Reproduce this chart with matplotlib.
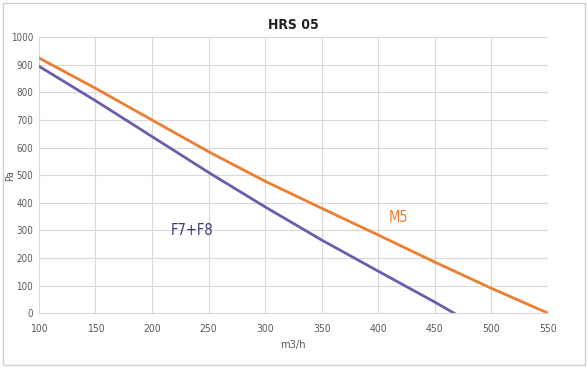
import matplotlib
matplotlib.use("Agg")
import matplotlib.pyplot as plt
from matplotlib.patches import Rectangle

plt.rcParams["font.family"] = ["DejaVu Sans"]
plt.rcParams["font.stretch"] = "condensed"

# airflow (m3/h) vs pressure (Pa)
m5_flow = [100, 150, 200, 250, 300, 350, 400, 450, 500, 550]
m5_pa = [925, 815, 700, 585, 478, 380, 283, 185, 90, 0]
f7f8_flow = [100, 150, 200, 250, 300, 350, 400, 450, 467]
f7f8_pa = [895, 770, 640, 510, 385, 265, 152, 40, 0]

x_ticks = [100, 150, 200, 250, 300, 350, 400, 450, 500, 550]
y_ticks = [0, 100, 200, 300, 400, 500, 600, 700, 800, 900, 1000]

ORANGE = "#ED7D31"
PURPLE = "#6E5BAE"
GRID = "#D9D9D9"
TICK = "#595959"

fig = plt.figure(figsize=(5.88, 3.68), dpi=100)
ax = fig.add_axes([0.066, 0.149, 0.866, 0.75])

ax.plot(m5_flow, m5_pa, color=ORANGE, lw=2)
ax.plot(f7f8_flow, f7f8_pa, color=PURPLE, lw=2)

ax.set_xlim(100, 550)
ax.set_ylim(0, 1000)
ax.set_xticks(x_ticks)
ax.set_yticks(y_ticks)
ax.grid(True, color=GRID, lw=0.8)
ax.set_axisbelow(True)
for s in ["top", "right", "left"]:
    ax.spines[s].set_visible(False)
ax.spines["bottom"].set_color(GRID)
ax.tick_params(axis="x", length=0, labelsize=7.5, colors=TICK, pad=8)
ax.tick_params(axis="y", length=0, labelsize=7, colors=TICK, pad=4)

ax.set_title("HRS 05", fontsize=10, fontweight="bold", color="#222222", pad=6)
ax.set_xlabel("m3/h", fontsize=8, color=TICK, labelpad=4)
ax.set_ylabel("Pa", fontsize=7.5, color=TICK)
ax.yaxis.set_label_coords(-0.047, 0.5)

ax.text(235, 300, "F7+F8", color="#3B3A78", fontsize=10.5, ha="center", va="center")
ax.text(418, 345, "M5", color=ORANGE, fontsize=10.5, ha="center", va="center")

fig.patches.append(Rectangle((0.005, 0.008), 0.99, 0.984, transform=fig.transFigure,
                             fill=False, edgecolor="#D0D0D0", lw=1))

fig.savefig("out.png", dpi=100, facecolor="white")
